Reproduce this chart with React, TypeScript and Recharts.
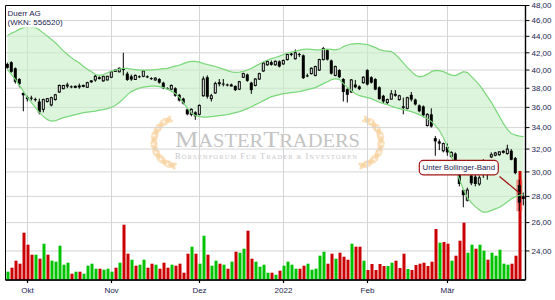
import React from "react";
import {
  ComposedChart, Bar, Line, Area, XAxis, YAxis, CartesianGrid, Cell,
  ReferenceLine, ReferenceDot, ReferenceArea,
} from "recharts";

// Duerr AG, daily candles 24.09.2021 - 28.03.2022 (Xetra)
const startDay = "2021-09-24";
const closedDays = ["2021-12-24", "2021-12-31"];
const monthLabels: Record<string, string> = {
  "2021-10-01": "Okt", "2021-11-01": "Nov", "2021-12-01": "Dez",
  "2022-01-03": "2022", "2022-02-01": "Feb", "2022-03-01": "Mär",
};
const priceTicks = [24, 26, 28, 30, 32, 34, 36, 38, 40, 42, 44, 46, 48];

const opens = [
  40.7, 40.9, 40.2, 39.0, 37.5, 36.9, 37.0, 36.85, 36.6, 35.8,
  36.6, 36.25, 36.8, 37.6, 37.95, 38.25, 38.2, 38.1, 38.2, 38.2,
  38.1, 38.7, 38.9, 39.2, 38.8, 38.9, 39.2, 39.85, 39.8, 40.25,
  39.6, 39.3, 38.95, 39.3, 39.3, 39.3, 39.1, 38.9, 39.0, 38.6,
  38.0, 37.9, 38.0, 37.3, 36.9, 35.8, 35.3, 35.5, 35.3, 37.2,
  39.2, 36.9, 37.5, 38.5, 38.5, 38.4, 38.3, 38.25, 37.9, 39.2,
  39.5, 38.6, 38.3, 39.0, 39.9, 40.6, 40.9, 40.6, 41.0, 40.7,
  41.2, 41.9, 41.3, 41.85, 41.7, 39.4, 39.6, 39.4, 40.0, 41.2,
  42.3, 41.1, 39.4, 40.0, 39.0, 37.9, 37.6, 38.4, 38.2, 38.6,
  40.0, 39.2, 39.0, 38.1, 37.2, 36.5, 36.85, 37.4, 36.8, 36.1,
  35.9, 37.3, 36.8, 36.2, 36.1, 34.2, 35.3, 33.0, 32.7, 31.85,
  32.2, 31.35, 31.6, 30.6, 28.5, 27.7, 29.7, 29.6, 29.0, 29.9,
  30.8, 31.3, 31.45, 31.5, 31.75, 31.6, 31.85, 31.2, 28.9, 28.0,
];
const highs = [
  40.85, 41.0, 40.3, 39.1, 37.55, 37.2, 37.2, 37.0, 36.9, 36.9,
  36.95, 37.1, 37.4, 38.4, 38.35, 38.6, 38.3, 38.3, 38.5, 38.4,
  38.7, 38.85, 39.5, 39.3, 39.35, 39.35, 39.9, 40.05, 40.3, 42.0,
  39.8, 39.5, 39.5, 39.4, 40.0, 39.4, 39.2, 39.2, 39.1, 38.7,
  38.1, 38.4, 38.1, 37.4, 37.0, 35.9, 35.9, 35.6, 36.3, 39.3,
  39.4, 37.4, 38.7, 39.0, 39.0, 38.5, 38.5, 38.3, 38.8, 39.7,
  39.6, 38.7, 39.1, 39.7, 40.9, 41.1, 41.1, 41.1, 41.1, 41.2,
  41.9, 42.0, 42.4, 42.0, 41.8, 39.6, 40.3, 40.5, 41.3, 42.7,
  42.4, 41.2, 40.5, 40.1, 39.1, 38.0, 39.0, 38.9, 38.3, 39.3,
  40.1, 39.3, 39.1, 38.2, 37.3, 36.9, 37.8, 37.8, 37.3, 37.0,
  37.1, 37.6, 36.9, 36.3, 36.2, 35.4, 35.9, 33.2, 32.9, 32.6,
  32.5, 31.8, 31.7, 30.8, 28.6, 28.7, 29.9, 29.8, 29.7, 31.1,
  31.0, 31.7, 31.75, 31.8, 31.9, 32.4, 32.0, 31.3, 29.35, 28.3,
];
const lows = [
  40.15, 39.7, 38.5, 38.1, 35.6, 36.6, 36.7, 36.6, 35.3, 35.5,
  36.5, 36.1, 36.7, 37.5, 37.9, 38.0, 38.0, 38.0, 37.95, 38.1,
  38.05, 38.6, 38.7, 38.95, 38.7, 38.85, 39.1, 39.8, 39.75, 39.4,
  38.8, 38.8, 38.9, 39.1, 39.2, 39.1, 38.9, 38.8, 38.5, 37.9,
  37.85, 37.8, 37.1, 36.6, 36.3, 35.2, 35.1, 34.75, 35.2, 37.1,
  36.9, 36.6, 37.4, 38.2, 38.2, 38.2, 38.2, 37.7, 37.8, 39.1,
  38.7, 37.4, 38.2, 38.9, 39.8, 40.5, 40.5, 40.5, 40.3, 40.6,
  41.1, 41.6, 41.2, 41.5, 39.0, 39.2, 39.5, 39.3, 39.9, 41.1,
  41.1, 39.5, 39.3, 39.1, 36.6, 36.5, 37.5, 38.0, 37.8, 38.5,
  38.3, 38.5, 37.8, 36.8, 36.4, 36.3, 36.8, 37.1, 36.7, 35.3,
  35.8, 36.6, 36.2, 35.5, 35.0, 34.1, 34.0, 31.4, 31.9, 31.7,
  31.4, 31.2, 30.5, 28.8, 27.15, 27.6, 28.9, 28.8, 28.85, 29.5,
  29.35, 31.2, 31.35, 31.4, 31.6, 31.5, 31.0, 29.8, 26.85, 27.3,
];
const closes = [
  40.25, 39.8, 38.7, 38.45, 37.25, 37.0, 36.9, 36.75, 35.5, 36.8,
  36.9, 37.0, 37.3, 38.3, 38.3, 38.35, 38.1, 38.2, 38.25, 38.3,
  38.6, 38.8, 39.3, 39.0, 39.3, 39.3, 39.8, 40.0, 40.2, 40.0,
  38.9, 38.95, 39.4, 39.2, 39.9, 39.2, 39.0, 39.1, 38.6, 38.0,
  37.9, 38.3, 37.2, 36.7, 36.4, 35.3, 35.8, 35.1, 36.2, 39.0,
  37.1, 37.2, 38.5, 38.6, 38.45, 38.3, 38.35, 37.8, 38.7, 39.6,
  38.8, 37.8, 39.0, 39.6, 40.8, 41.0, 40.6, 41.0, 40.4, 41.1,
  41.8, 41.75, 42.0, 41.8, 39.1, 39.3, 40.2, 40.4, 41.2, 42.5,
  41.2, 39.6, 40.4, 39.2, 37.6, 37.3, 38.9, 38.1, 37.9, 39.2,
  38.4, 38.6, 37.85, 36.85, 36.6, 36.8, 37.4, 37.2, 37.2, 35.95,
  37.0, 36.8, 36.3, 35.6, 35.2, 35.3, 34.1, 32.7, 32.5, 32.5,
  31.7, 31.7, 30.6, 29.0, 28.1, 28.5, 29.05, 29.0, 29.5, 30.9,
  30.5, 31.5, 31.65, 31.75, 31.8, 32.0, 31.05, 29.9, 27.5, 27.8,
];
// Bollinger bands (20, 2)
const upperBand = [
  44.1, 44.4, 44.6, 44.9, 45.1, 45.2, 45.2, 45.1, 44.8, 44.4,
  44.0, 43.6, 43.2, 42.7, 42.2, 41.8, 41.4, 41.1, 40.8, 40.4,
  40.1, 39.8, 39.5, 39.4, 39.5, 39.7, 39.9, 40.0, 40.1, 40.2,
  40.2, 40.1, 40.05, 40.0, 40.0, 40.0, 40.03, 40.05, 40.1, 40.17,
  40.2, 40.34, 40.45, 40.57, 40.74, 40.9, 41.0, 41.0, 40.9, 40.74,
  40.63, 40.51, 40.4, 40.25, 40.1, 39.94, 39.79, 39.75, 39.77, 39.85,
  40.0, 40.2, 40.45, 40.7, 40.95, 41.15, 41.32, 41.44, 41.6, 41.79,
  41.97, 42.08, 42.2, 42.32, 42.4, 42.45, 42.4, 42.35, 42.35, 42.4,
  42.45, 42.4, 42.35, 42.45, 42.74, 42.93, 43.05, 43.11, 43.11, 43.05,
  42.99, 42.8, 42.62, 42.38, 42.26, 42.2, 42.14, 41.79, 41.32, 40.8,
  40.28, 39.82, 39.43, 39.23, 39.32, 39.54, 39.82, 39.97, 39.94, 39.82,
  39.6, 39.43, 39.38, 39.6, 39.82, 39.71, 39.27, 38.82, 38.33, 37.74,
  37.11, 36.48, 35.77, 35.07, 34.38, 33.8, 33.43, 33.28, 33.19, 33.14,
];
const lowerBand = [
  40.05, 39.49, 38.93, 38.28, 37.64, 37.0, 36.48, 35.97, 35.47, 35.07,
  34.77, 34.62, 34.67, 34.82, 34.97, 35.07, 35.17, 35.27, 35.37, 35.47,
  35.52, 35.57, 35.62, 35.72, 35.77, 35.87, 36.02, 36.22, 36.53, 36.9,
  37.32, 37.64, 37.85, 38.01, 38.12, 38.18, 38.23, 38.23, 38.18, 38.07,
  37.9, 37.69, 37.42, 37.0, 36.48, 35.87, 35.47, 35.17, 35.07, 35.02,
  35.02, 35.07, 35.12, 35.17, 35.22, 35.27, 35.37, 35.47, 35.57, 35.72,
  35.87, 36.07, 36.28, 36.48, 36.69, 36.9, 37.11, 37.21, 37.32, 37.42,
  37.48, 37.53, 37.58, 37.64, 37.74, 37.85, 37.96, 38.07, 38.28, 38.5,
  38.71, 38.93, 39.04, 38.93, 38.5, 38.07, 37.74, 37.42, 37.21, 37.11,
  37.0, 36.9, 36.69, 36.53, 36.38, 36.28, 36.12, 35.97, 35.87, 35.77,
  35.67, 35.57, 35.42, 35.27, 35.07, 34.87, 34.58, 34.19, 33.7, 33.05,
  32.22, 31.32, 30.35, 29.34, 28.52, 27.89, 27.49, 27.18, 26.95, 26.76,
  26.8, 26.91, 27.03, 27.15, 27.34, 27.57, 27.81, 27.97, 28.09, 28.16,
];
// volume in thousand shares
const volumes = [
  83, 123, 193, 163, 473, 353, 253, 253, 213, 363,
  253, 193, 183, 343, 153, 173, 63, 83, 83, 63,
  143, 163, 113, 113, 103, 113, 83, 123, 173, 553,
  263, 203, 143, 153, 203, 123, 163, 153, 113, 173,
  123, 153, 143, 163, 73, 263, 333, 263, 163, 443,
  253, 143, 193, 163, 153, 113, 183, 283, 273, 313,
  493, 213, 183, 133, 153, 73, 73, 53, 93, 143,
  183, 153, 113, 113, 143, 163, 103, 113, 243, 283,
  163, 263, 213, 273, 233, 203, 363, 333, 333, 193,
  100, 160, 100, 160, 140, 140, 173, 193, 120, 263,
  110, 100, 150, 163, 173, 140, 183, 510, 373, 380,
  363, 193, 243, 393, 573, 273, 353, 313, 353, 293,
  203, 273, 243, 303, 163, 153, 163, 243, 1090, 0,
];
// 1 = close above previous close
const volUp = [
  1, 0, 0, 0, 0, 0, 0, 1, 0, 1,
  0, 1, 1, 1, 1, 1, 0, 1, 0, 1,
  1, 1, 1, 0, 1, 1, 1, 0, 1, 0,
  0, 1, 0, 1, 1, 0, 0, 1, 0, 0,
  0, 1, 0, 0, 0, 0, 1, 0, 1, 1,
  0, 1, 1, 0, 1, 0, 1, 0, 1, 1,
  0, 0, 1, 1, 1, 1, 0, 1, 0, 1,
  1, 1, 1, 0, 0, 1, 1, 1, 1, 1,
  0, 0, 1, 0, 0, 0, 1, 0, 0, 1,
  0, 0, 0, 0, 0, 1, 1, 0, 0, 0,
  1, 0, 0, 0, 0, 0, 0, 0, 1, 0,
  0, 1, 0, 0, 0, 1, 1, 0, 1, 1,
  0, 1, 1, 1, 1, 1, 0, 0, 0, 0,
];

const signalDay = "2022-03-25";
const signalText = "Unter Bollinger-Band";
const boxDay = "2022-03-04";
const boxPrice = 30.37;
const lineFrom = { day: "2022-03-18", price: 29.62 };
const lineTo = { day: "2022-03-25", price: 28.27 };

function tradingDays(start: string, count: number) {
  const out: string[] = [];
  const d = new Date(start + "T12:00:00Z");
  while (out.length < count) {
    const wd = d.getUTCDay();
    const iso = d.toISOString().slice(0, 10);
    if (wd !== 0 && wd !== 6 && !closedDays.includes(iso)) out.push(iso);
    d.setUTCDate(d.getUTCDate() + 1);
  }
  return out;
}

const dates = tradingDays(startDay, closes.length);
const rows = dates.map((date, i) => ({
  date, o: opens[i], h: highs[i], l: lows[i], c: closes[i],
  bu: upperBand[i], bl: lowerBand[i], vol: volumes[i], up: volUp[i] === 1,
  mark: date === signalDay,
}));

const TXT = "#1c1c50";
const FONT = "Liberation Sans, Arial, sans-serif";

const Candle = (p: any) => {
  const { x, y, width, height, payload } = p;
  if (payload == null || payload.h == null) return null;
  const lh = Math.log(payload.h), span = lh - Math.log(payload.l);
  const at = (v: number) => y + (span > 0 ? ((lh - Math.log(v)) / span) * height : 0);
  const cx = x + width / 2;
  const yo = at(payload.o), yc = at(payload.c);
  const top = Math.min(yo, yc);
  const bh = Math.max(Math.abs(yc - yo), 1);
  const up = payload.c >= payload.o;
  return (
    <g>
      {payload.mark && (
        <rect x={cx - 3} y={y} width={6} height={height} fill="#ff2a2a" fillOpacity={0.5} />
      )}
      <line x1={cx} x2={cx} y1={y} y2={y + height} stroke="#000" strokeWidth={1} />
      {up ? (
        <rect x={cx - 1} y={top} width={2} height={bh} fill="#fff" stroke="#000" strokeWidth={1} />
      ) : (
        <rect x={cx - 1.5} y={top} width={3} height={bh} fill="#000" />
      )}
    </g>
  );
};

const SignalBox = (p: any) => {
  const { cx, cy } = p;
  return (
    <g>
      <rect x={cx - 40.2} y={cy - 7.2} width={79} height={14.4} rx={4} fill="#fff" stroke="#a31515" strokeWidth={1.2} />
      <text x={cx - 0.7} y={cy + 2.8} textAnchor="middle" fontSize={7.8} fontFamily={FONT} fill={TXT}>
        {signalText}
      </text>
    </g>
  );
};

function Wreath({ cx, cy, flip }: { cx: number; cy: number; flip: boolean }) {
  const leaves: React.ReactNode[] = [];
  const angles = [105, 125, 145, 165, 185, 205, 225, 245];
  angles.forEach((a, i) => {
    const rad = (a * Math.PI) / 180;
    const r = 24;
    const px = cx + (flip ? -1 : 1) * r * Math.cos(rad);
    const py = cy + r * Math.sin(rad);
    const tang = a + 90;
    [-35, 35].forEach((off, j) => {
      const rot = flip ? 180 - (tang + off) : tang + off;
      leaves.push(
        <ellipse key={`${i}-${j}`} cx={px} cy={py} rx={5.5} ry={2.1}
          transform={`rotate(${rot} ${px} ${py})`} fill="#f7cf98" fillOpacity={0.65} />
      );
    });
  });
  return <g>{leaves}</g>;
}

export default function App() {
  return (
    <div style={{ position: "absolute", left: 0, top: 0, width: 555, height: 300, background: "#fff" }}>
      <svg width={555} height={300} style={{ position: "absolute", left: 0, top: 0 }}>
        <Wreath cx={178} cy={142} flip={false} />
        <Wreath cx={357} cy={142} flip={true} />
        <text x={267.5} y={147.3} textAnchor="middle" fontFamily="Liberation Serif, serif" fill="#c4c4c4"
          fontSize={18} textLength={185} lengthAdjust="spacingAndGlyphs">
          <tspan fontSize={23}>M</tspan>ASTER<tspan fontSize={23}>T</tspan>RADERS
        </text>
        <text x={266} y={159.3} textAnchor="middle" fontFamily="Liberation Serif, serif" fill="#c8c8c8"
          fontSize={6.6} textLength={182} lengthAdjust="spacing">
          <tspan fontSize={8.4}>B</tspan>ÖRSENFORUM <tspan fontSize={8.4}>F</tspan>ÜR <tspan fontSize={8.4}>T</tspan>RADER &amp; <tspan fontSize={8.4}>I</tspan>NVESTOREN
        </text>
      </svg>
      <div style={{ position: "absolute", left: 0, top: 0 }}>
        <ComposedChart width={555} height={300} data={rows}
          margin={{ top: 5.5, right: 0, bottom: 0, left: 5.5 }}>
          <CartesianGrid xAxisId="p" yAxisId="p" stroke="#d4d4d4" strokeWidth={1} />
          <XAxis xAxisId="p" dataKey="date" ticks={Object.keys(monthLabels)} interval={0}
            tickFormatter={(d: string) => monthLabels[d] ?? ""} height={20}
            axisLine={{ stroke: "#000", strokeWidth: 1.6 }} tickLine={{ stroke: "#000", strokeWidth: 1.2 }}
            tickSize={3} tickMargin={4}
            tick={{ fontSize: 8, fill: TXT, fontFamily: FONT }} />
          <XAxis xAxisId="v" dataKey="date" hide />
          <YAxis yAxisId="p" orientation="right" type="number" scale="log" domain={[22.11, 48]}
            allowDataOverflow ticks={priceTicks} interval={0} width={29.5}
            tickFormatter={(v: number) => v.toFixed(2).replace(".", ",")}
            axisLine={{ stroke: "#000", strokeWidth: 1.4 }} tickLine={{ stroke: "#000" }}
            tickSize={4} tickMargin={2}
            tick={{ fontSize: 8, fill: TXT, fontFamily: FONT }} />
          <YAxis yAxisId="v" type="number" domain={[0, 2745]} hide />
          <ReferenceArea xAxisId="p" yAxisId="p" y1={22.11} y2={48} fill="none" stroke="#000" strokeWidth={1} />
          <Area xAxisId="p" yAxisId="p" dataKey={(r: any) => [r.bl, r.bu]} stroke="none"
            fill="#c6efc6" fillOpacity={0.6} isAnimationActive={false} dot={false} activeDot={false} />
          <Bar xAxisId="v" yAxisId="v" dataKey="vol" barSize={3} isAnimationActive={false}>
            {rows.map((r, i) => (
              <Cell key={i} fill={r.up ? "#00c300" : "#cc0000"} />
            ))}
          </Bar>
          <Line xAxisId="p" yAxisId="p" dataKey="bu" stroke="#7ad87a" strokeWidth={1.2}
            dot={false} activeDot={false} isAnimationActive={false} />
          <Line xAxisId="p" yAxisId="p" dataKey="bl" stroke="#7ad87a" strokeWidth={1.2}
            dot={false} activeDot={false} isAnimationActive={false} />
          <Bar xAxisId="p" yAxisId="p" dataKey={(r: any) => [r.l, r.h]} barSize={4}
            shape={Candle} isAnimationActive={false} />
          <ReferenceLine xAxisId="p" yAxisId="p" stroke="#a31515" strokeWidth={1.3}
            segment={[{ x: lineFrom.day, y: lineFrom.price }, { x: lineTo.day, y: lineTo.price }]} />
          <ReferenceDot xAxisId="p" yAxisId="p" x={boxDay} y={boxPrice} r={0} shape={SignalBox} />
        </ComposedChart>
      </div>
      <svg width={555} height={300} style={{ position: "absolute", left: 0, top: 0, pointerEvents: "none" }}>
        <rect x={6.5} y={6.5} width={52} height={21} fill="#fff" />
        <text x={7.5} y={15.6} fontSize={8} fontFamily={FONT} fill={TXT}>Duerr AG</text>
        <text x={7.5} y={25.3} fontSize={8} fontFamily={FONT} fill={TXT}>(WKN: 556520)</text>
      </svg>
    </div>
  );
}
